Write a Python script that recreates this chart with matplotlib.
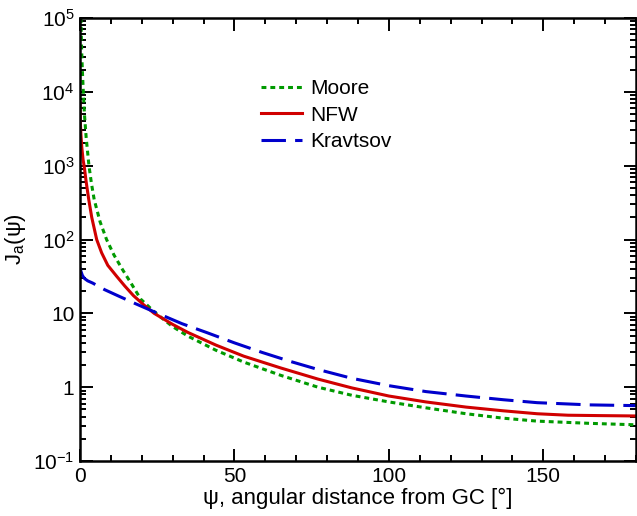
import numpy as np
import matplotlib
matplotlib.use("Agg")
import matplotlib.pyplot as plt
from matplotlib.ticker import FixedLocator, FixedFormatter, MultipleLocator, LogLocator

# --------- Data (log10 of J) ---------
psi_moore = [0.3, 0.5, 0.75, 1.07, 1.5, 2.0, 2.9, 3.7, 4.6, 6.5, 8.6, 11, 13.8, 16.5,
             19.7, 24.6, 30, 35, 44, 53, 65, 77, 88, 100, 112, 125, 137, 148, 165, 180]
logj_moore = [5.0, 4.6, 4.3, 4.0, 3.66, 3.38, 3.0, 2.76, 2.54, 2.24, 2.0, 1.79, 1.59, 1.41,
              1.19, 1.0, 0.82, 0.69, 0.5, 0.34, 0.16, 0.0, -0.11, -0.2, -0.28, -0.36,
              -0.42, -0.46, -0.49, -0.51]

psi_nfw = [0, 0.1, 0.3, 0.6, 1.0, 1.4, 2.0, 2.8, 3.8, 5.4, 7.0, 9.0, 11.9, 14.5, 17.3,
           20.5, 24, 30, 35, 44, 53, 65, 77, 88, 100, 112, 125, 137, 148, 158, 168, 180]
logj_nfw = [3.86, 3.6, 3.42, 3.24, 3.08, 2.98, 2.78, 2.55, 2.3, 2.0, 1.82, 1.65, 1.5,
            1.37, 1.24, 1.12, 1.0, 0.85, 0.74, 0.57, 0.42, 0.26, 0.11, -0.01, -0.12,
            -0.2, -0.27, -0.32, -0.36, -0.38, -0.385, -0.39]

psi_krav = [0, 0.3, 0.8, 1.5, 2.5, 4.1, 8, 12.7, 18, 25.7, 33, 41, 50, 59, 68, 77, 88,
            100, 112, 125, 137, 148, 165, 180]
logj_krav = [1.62, 1.57, 1.51, 1.47, 1.44, 1.41, 1.32, 1.23, 1.13, 0.99, 0.86, 0.74, 0.6,
             0.47, 0.35, 0.24, 0.12, 0.02, -0.06, -0.12, -0.17, -0.21, -0.24, -0.25]

ytick_vals = [1e-1, 1, 10, 1e2, 1e3, 1e4, 1e5]
ytick_labels = ['$10^{-1}$', '1', '10', '$10^2$', '$10^3$', '$10^4$', '$10^5$']
# -------------------------------------------------------------

plt.rcParams['font.family'] = ['Liberation Sans', 'DejaVu Sans']
plt.rcParams['mathtext.fontset'] = 'custom'
plt.rcParams['mathtext.rm'] = 'Liberation Sans'
plt.rcParams['mathtext.it'] = 'Liberation Sans'
plt.rcParams['mathtext.default'] = 'regular'

fig = plt.figure(figsize=(6.37, 5.16), dpi=100)
ax = fig.add_axes([80 / 637, 1 - 461 / 516, 556 / 637, 443 / 516])

lw = 2.2
ax.plot(psi_moore, 10 ** np.array(logj_moore), color='#009a00', lw=lw,
        dashes=(1.6, 1.3), label='Moore')
ax.plot(psi_nfw, 10 ** np.array(logj_nfw), color='#d00000', lw=lw, label='NFW')
ax.plot(psi_krav, 10 ** np.array(logj_krav), color='#0000cc', lw=lw,
        dashes=(8, 3), label='Kravtsov')

ax.set_yscale('log')
ax.set_xlim(0, 180)
ax.set_ylim(1e-1, 1e5)

ax.xaxis.set_major_locator(FixedLocator([0, 50, 100, 150]))
ax.xaxis.set_minor_locator(MultipleLocator(10))
ax.yaxis.set_major_locator(FixedLocator(ytick_vals))
ax.yaxis.set_major_formatter(FixedFormatter(ytick_labels))
ax.yaxis.set_minor_locator(LogLocator(base=10, subs=np.arange(2, 10)))
ax.yaxis.set_minor_formatter(FixedFormatter([]))

ax.tick_params(which='both', direction='in', top=True, right=True, width=1.4,
               labelsize=15, pad=4)
ax.tick_params(which='major', length=9)
ax.tick_params(which='minor', length=4.5)
for s in ax.spines.values():
    s.set_linewidth(1.8)

ax.set_xlabel(r'ψ, angular distance from GC [°]', fontsize=16, labelpad=2)
ax.set_ylabel(r'$J_a(\psi)$', fontsize=16, labelpad=4)

ax.legend(loc='upper left', bbox_to_anchor=(0.31, 0.88), frameon=False,
          fontsize=15, handlelength=2.0, handletextpad=0.4, labelspacing=0.35,
          borderaxespad=0)

fig.savefig('out.png', dpi=100)
